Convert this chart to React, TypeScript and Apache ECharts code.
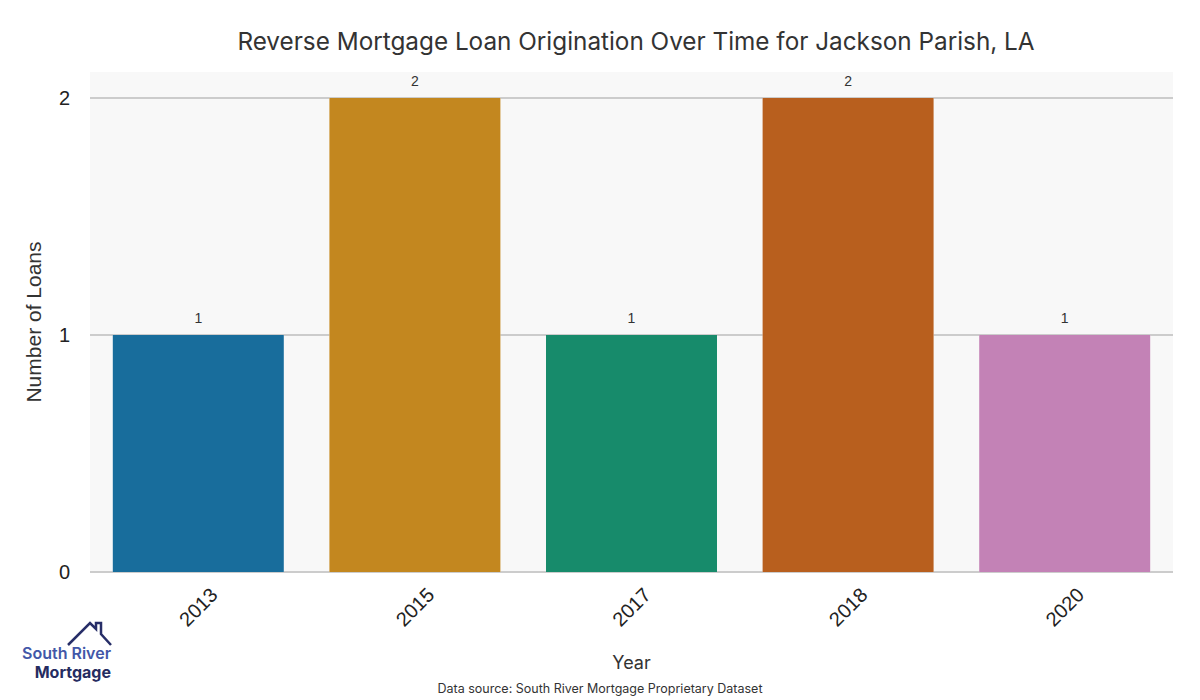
import React, { useEffect, useRef } from "react";
import * as echarts from "echarts";

const categories = ["2013", "2015", "2017", "2018", "2020"];
const loanCounts = [1, 2, 1, 2, 1];
const barColors = ["#186d9c", "#c3871f", "#178b6b", "#b85f1e", "#c382b6"];
const yTicks = [0, 1, 2];

const titleText = "Reverse Mortgage Loan Origination Over Time for Jackson Parish, LA";
const sourceText = "Data source: South River Mortgage Proprietary Dataset";

export default function App() {
  const ref = useRef<HTMLDivElement>(null);
  useEffect(() => {
    if (!ref.current) return;
    const chart = echarts.init(ref.current, undefined, { renderer: "svg" });
    const option: any = {
      animation: false,
      backgroundColor: "#ffffff",
      title: {
        text: titleText,
        left: 631,
        top: 24,
        textAlign: "center",
        textStyle: { fontFamily: "Inter", fontSize: 24.3, fontWeight: "normal", color: "#333333" },
      },
      grid: {
        left: 90,
        right: 27,
        top: 72,
        bottom: 128,
        show: true,
        backgroundColor: "#f8f8f8",
        borderWidth: 0,
      },
      xAxis: {
        type: "category",
        data: categories,
        name: "Year",
        nameLocation: "middle",
        nameGap: 81,
        nameTextStyle: { fontFamily: "Inter", fontSize: 18, color: "#333333" },
        axisLine: { show: false },
        axisTick: { show: false },
        axisLabel: {
          rotate: 45,
          align: "center",
          verticalAlign: "middle",
          margin: 35,
          fontFamily: "Liberation Sans",
          fontSize: 20,
          color: "#222222",
        },
      },
      yAxis: {
        type: "value",
        min: 0,
        max: 2.11,
        interval: 1,
        name: "Number of Loans",
        nameLocation: "middle",
        nameGap: 46,
        nameTextStyle: { fontFamily: "Liberation Sans", fontSize: 21, color: "#333333" },
        axisLine: { show: false },
        axisTick: { show: false },
        axisLabel: {
          margin: 20,
          fontFamily: "Liberation Sans",
          fontSize: 20,
          color: "#222222",
          formatter: (v: number) => (yTicks.includes(v) ? String(v) : ""),
        },
        splitLine: {
          show: true,
          lineStyle: { color: ["#cccccc", "#cccccc", "#cccccc", "rgba(0,0,0,0)"], width: 2 },
        },
      },
      series: [
        {
          type: "bar",
          name: "halo",
          data: loanCounts,
          barWidth: 171,
          barGap: "-100%",
          silent: true,
          itemStyle: { color: "#ffffff", borderColor: "#ffffff", borderWidth: 4 },
        },
        {
          type: "bar",
          name: "Number of Loans",
          data: loanCounts.map((v, i) => ({ value: v, itemStyle: { color: barColors[i] } })),
          barWidth: 171,
          barGap: "-100%",
          label: {
            show: true,
            position: "top",
            distance: 10,
            fontFamily: "Liberation Sans",
            fontSize: 14,
            color: "#333333",
          },
        },
      ],
      graphic: [
        {
          type: "text",
          left: "center",
          top: 682,
          style: { text: sourceText, fontFamily: "Inter", fontSize: 12.5, fill: "#333333" },
        },
        {
          type: "polyline",
          shape: {
            points: [
              [68, 645],
              [90, 623],
              [96, 629],
              [96, 623],
              [101, 623],
              [101, 634],
              [111, 645],
            ],
          },
          style: { stroke: "#272e68", lineWidth: 2.5, fill: "none" },
        },
        {
          type: "text",
          x: 111,
          y: 645,
          style: {
            text: "South River",
            align: "right",
            fontFamily: "Inter",
            fontWeight: 600,
            fontSize: 16,
            fill: "#4257a8",
          },
        },
        {
          type: "text",
          x: 111,
          y: 664,
          style: {
            text: "Mortgage",
            align: "right",
            fontFamily: "Inter",
            fontWeight: 700,
            fontSize: 16,
            fill: "#252c61",
          },
        },
      ],
    };
    chart.setOption(option);
    return () => chart.dispose();
  }, []);
  return <div ref={ref} style={{ width: 1200, height: 700, position: "absolute", left: 0, top: 0 }} />;
}
